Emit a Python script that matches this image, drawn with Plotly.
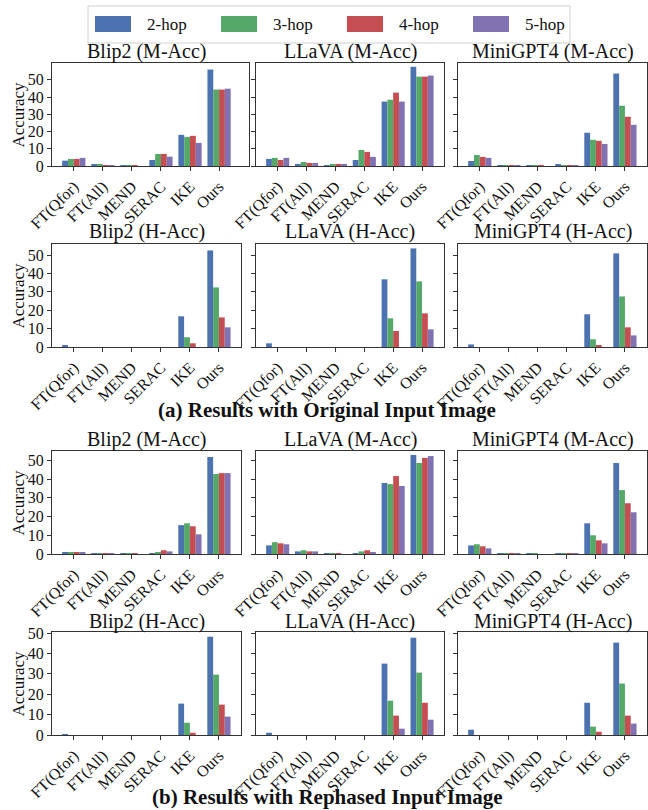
import plotly.graph_objects as go
from plotly.subplots import make_subplots

categories = ["FT(Qfor)", "FT(All)", "MEND", "SERAC", "IKE", "Ours"]
hops = ["2-hop", "3-hop", "4-hop", "5-hop"]
colors = ["#4C72B0", "#55A868", "#C44E52", "#8172B2"]
models = ["Blip2", "LLaVA", "MiniGPT4"]
metrics = ["M-Acc", "H-Acc"]

# (a) Original input image -- each list: 2-hop, 3-hop, 4-hop, 5-hop
blip2_macc_orig = [[3.1, 0.6, 0.3, 3.5, 18.1, 56.0],
                   [4.1, 0.6, 0.2, 7.0, 16.9, 44.4],
                   [4.1, 0.3, 0.1, 7.0, 17.5, 44.4],
                   [4.7, 0.5, 0.0, 5.4, 13.4, 44.9]]
llava_macc_orig = [[4.1, 1.2, 0.2, 3.5, 37.4, 57.6],
                   [4.7, 2.3, 1.2, 9.3, 38.5, 51.9],
                   [3.5, 1.8, 1.2, 8.2, 42.6, 51.9],
                   [4.7, 1.8, 1.2, 5.3, 37.4, 52.5]]
minigpt4_macc_orig = [[2.9, 0.2, 0.2, 0.6, 19.3, 53.7],
                      [6.4, 0.2, 0.2, 0.1, 15.2, 35.0],
                      [5.3, 0.2, 0.3, 0.1, 14.6, 28.6],
                      [4.7, 0.2, 0.0, 0.1, 12.8, 23.9]]
blip2_hacc_orig = [[0.8, 0, 0, 0, 16.7, 52.5],
                   [0, 0, 0, 0, 5.3, 32.4],
                   [0, 0, 0, 0, 2.0, 16.1],
                   [0, 0, 0, 0, 0, 10.7]]
llava_hacc_orig = [[2.0, 0, 0, 0, 36.8, 53.6],
                   [0, 0, 0, 0, 15.6, 35.7],
                   [0, 0, 0, 0, 8.7, 18.3],
                   [0, 0, 0, 0, 0, 9.6]]
minigpt4_hacc_orig = [[1.4, 0, 0, 0, 17.8, 50.9],
                      [0, 0, 0, 0, 4.2, 27.5],
                      [0, 0, 0, 0, 0.9, 10.7],
                      [0, 0, 0, 0, 0, 6.3]]

# (b) Rephrased input image
blip2_macc_reph = [[0.9, 0.4, 0.3, 0.4, 15.4, 51.8],
                   [0.9, 0.2, 0.1, 0.9, 16.4, 42.7],
                   [0.9, 0.2, 0.3, 2.0, 14.8, 43.2],
                   [0.9, 0.2, 0.0, 1.4, 10.5, 43.2]]
llava_macc_reph = [[4.6, 1.4, 0.3, 0.3, 37.9, 52.9],
                   [6.3, 2.0, 0.3, 1.4, 37.3, 48.6],
                   [5.7, 1.4, 0.3, 2.0, 41.6, 51.3],
                   [5.2, 1.4, 0.0, 0.9, 36.3, 52.3]]
minigpt4_macc_reph = [[4.6, 0.3, 0.3, 0.3, 16.4, 48.6],
                      [5.2, 0.3, 0.3, 0.1, 10.0, 34.1],
                      [4.1, 0.3, 0.0, 0.3, 7.3, 27.1],
                      [3.0, 0.2, 0.0, 0.2, 5.7, 22.3]]
blip2_hacc_reph = [[0.2, 0, 0, 0, 15.4, 48.2],
                   [0, 0, 0, 0, 6.0, 29.6],
                   [0, 0, 0, 0, 1.1, 14.9],
                   [0, 0, 0, 0, 0, 9.0]]
llava_hacc_reph = [[1.1, 0, 0, 0, 35.0, 47.7],
                   [0, 0, 0, 0, 16.8, 30.6],
                   [0, 0, 0, 0, 9.5, 15.8],
                   [0, 0, 0, 0, 3.1, 7.5]]
minigpt4_hacc_reph = [[2.6, 0, 0, 0, 15.8, 45.3],
                      [0, 0, 0, 0, 4.1, 25.2],
                      [0, 0, 0, 0, 1.6, 9.5],
                      [0, 0, 0, 0, 0, 5.6]]

panels = [
    [blip2_macc_orig, llava_macc_orig, minigpt4_macc_orig],
    [blip2_hacc_orig, llava_hacc_orig, minigpt4_hacc_orig],
    [blip2_macc_reph, llava_macc_reph, minigpt4_macc_reph],
    [blip2_hacc_reph, llava_hacc_reph, minigpt4_hacc_reph],
]
row_metric = ["M-Acc", "H-Acc", "M-Acc", "H-Acc"]
y_ranges = [59.8, 56.0, 55.0, 50.5]

W, H = 648, 810
FONT = "Liberation Serif, Times New Roman, serif"

row_px = [(63, 166), (244, 347), (451, 554), (632, 735)]
col_px = [(52, 241), (256, 444), (458, 647)]
title_y_px = [51, 231, 439, 621]

fig = make_subplots(rows=4, cols=3)

for r in range(4):
    for c in range(3):
        data = panels[r][c]
        for h in range(4):
            fig.add_trace(go.Bar(
                x=categories, y=data[h], name=hops[h],
                marker=dict(color=colors[h], line=dict(width=0)),
                showlegend=False,
            ), row=r + 1, col=c + 1)

for r in range(4):
    for c in range(3):
        idx = r * 3 + c + 1
        xa = "xaxis" if idx == 1 else f"xaxis{idx}"
        ya = "yaxis" if idx == 1 else f"yaxis{idx}"
        x0, x1 = col_px[c]
        if r == 0 and c == 0:
            x1 = 249
        t, b = row_px[r]
        xr = [-0.75, 6.03] if (r == 0 and c == 0) else [-0.75, 5.76]
        fig.layout[xa].update(
            domain=[x0 / W, x1 / W], range=xr, type="category",
            categoryorder="array", categoryarray=categories,
            tickangle=-45, ticks="outside", ticklen=4, tickcolor="#333",
            showline=True, mirror=True, linecolor="#333", linewidth=1,
            showgrid=False, zeroline=False, automargin=False,
            tickfont=dict(family=FONT, size=16, color="#111"),
        )
        fig.layout[ya].update(
            domain=[1 - b / H, 1 - t / H], range=[0, y_ranges[r]],
            tickmode="linear", tick0=0, dtick=10,
            ticks="outside", ticklen=4, tickcolor="#333",
            showline=True, mirror=True, linecolor="#333", linewidth=1,
            showgrid=False, zeroline=False, showticklabels=(c == 0),
            automargin=False,
            tickfont=dict(family=FONT, size=16, color="#111"),
        )
        tx0, tx1 = col_px[c]
        fig.add_annotation(
            x=(tx0 + tx1) / 2 / W, y=1 - title_y_px[r] / H, xref="paper", yref="paper",
            text=f"{models[c]} ({row_metric[r]})", showarrow=False,
            xanchor="center", yanchor="middle",
            font=dict(family=FONT, size=20, color="#111"),
        )
    fig.add_annotation(
        x=18 / W, y=1 - (row_px[r][0] + row_px[r][1]) / 2 / H, xref="paper", yref="paper",
        text="Accuracy", textangle=-90, showarrow=False,
        xanchor="center", yanchor="middle",
        font=dict(family=FONT, size=17, color="#111"),
    )

fig.add_annotation(x=327 / W, y=1 - 410 / H, xref="paper", yref="paper",
                   text="<b>(a) Results with Original Input Image</b>", showarrow=False,
                   xanchor="center", yanchor="middle",
                   font=dict(family=FONT, size=21, color="#111"))
fig.add_annotation(x=327 / W, y=1 - 797 / H, xref="paper", yref="paper",
                   text="<b>(b) Results with Rephased Input Image</b>", showarrow=False,
                   xanchor="center", yanchor="middle",
                   font=dict(family=FONT, size=21, color="#111"))

# Legend box (drawn to mimic the reference legend)
fig.add_shape(type="rect", xref="paper", yref="paper",
              x0=88 / W, x1=570 / W, y0=1 - 43 / H, y1=1 - 6 / H,
              line=dict(color="#d0d0d0", width=1), fillcolor="white", layer="above")
for h in range(4):
    sx = 95 + 126 * h
    fig.add_shape(type="rect", xref="paper", yref="paper",
                  x0=sx / W, x1=(sx + 36) / W, y0=1 - 32 / H, y1=1 - 16 / H,
                  line=dict(width=0), fillcolor=colors[h], layer="above")
    fig.add_annotation(x=(sx + 50) / W, y=1 - 24 / H, xref="paper", yref="paper",
                       text=hops[h], showarrow=False, xanchor="left", yanchor="middle",
                       font=dict(family=FONT, size=17, color="#111"))

fig.update_layout(
    width=W, height=H, margin=dict(l=0, r=0, t=0, b=0, autoexpand=False),
    barmode="group", bargap=0.2, bargroupgap=0,
    plot_bgcolor="white", paper_bgcolor="white",
    showlegend=False,
    font=dict(family=FONT),
)

fig.write_html(
    "out.html",
    config={"displayModeBar": False},
    post_script="document.body.style.margin='0';document.body.style.padding='0';"
                "document.documentElement.style.overflow='hidden';",
)
